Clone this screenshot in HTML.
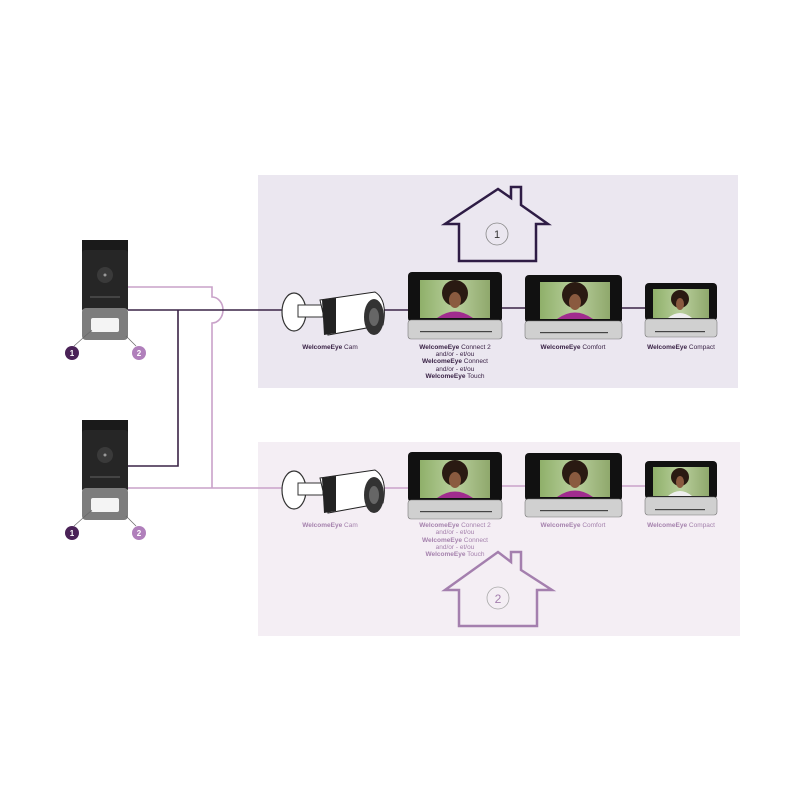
<!DOCTYPE html>
<html><head><style>
body{margin:0;background:#fff;width:800px;height:800px;overflow:hidden}
svg{display:block}
text{font-family:"Liberation Sans",sans-serif;font-size:6.5px;text-anchor:middle}
</style></head><body>
<svg width="800" height="800" viewBox="0 0 800 800">
<defs>
<linearGradient id="scr" x1="0" y1="0" x2="1" y2="0"><stop offset="0" stop-color="#8fb06a"/><stop offset="0.5" stop-color="#b9cf9c"/><stop offset="1" stop-color="#8fa86c"/></linearGradient>
<g id="db">
<rect x="82" y="240" width="46" height="14" fill="#1a1a1a"/>
<rect x="82" y="250" width="46" height="62" rx="3" fill="#262626"/>
<rect x="82" y="308" width="46" height="32" rx="4" fill="#7d7d7d"/>
<circle cx="105" cy="275" r="8" fill="#3a3a3a"/><circle cx="105" cy="275" r="1.5" fill="#999"/>
<rect x="90" y="296" width="30" height="2" fill="#444"/>
<rect x="91" y="318" width="28" height="14" rx="2" fill="#f4f4f4"/>
</g>
<g id="cam">
<ellipse cx="294" cy="312" rx="12" ry="19" fill="#fff" stroke="#333" stroke-width="1.2"/>
<rect x="298" y="305" width="25" height="12" fill="#fff" stroke="#333"/>
<path d="M320 300 L375 292 Q388 300 383 325 L328 335 Z" fill="#fff" stroke="#222"/>
<path d="M322 300 L336 298 L336 333 L324 335 Z" fill="#222"/>
<ellipse cx="374" cy="317" rx="10" ry="18" fill="#333"/>
<ellipse cx="374" cy="317" rx="5" ry="9" fill="#666"/>
</g>
<g id="mon1">
<rect x="408" y="272" width="94" height="50" rx="4" fill="#111"/>
<rect x="420" y="280" width="70" height="38" fill="url(#scr)"/>
<ellipse cx="455" cy="293" rx="13" ry="13" fill="#2a1a12"/><ellipse cx="455" cy="300" rx="6" ry="8" fill="#8a5a3f"/>
<path d="M437 318 Q455 305 473 318 Z" fill="#a02c8e"/>
<rect x="408" y="320" width="94" height="19" rx="3" fill="#d0d0d0" stroke="#777" stroke-width="0.6"/>
<rect x="420" y="331" width="72" height="1.2" fill="#444"/>
</g>
<g id="mon2">
<rect x="525" y="275" width="97" height="48" rx="4" fill="#111"/>
<rect x="540" y="282" width="70" height="37" fill="url(#scr)"/>
<ellipse cx="575" cy="295" rx="13" ry="13" fill="#2a1a12"/><ellipse cx="575" cy="302" rx="6" ry="8" fill="#8a5a3f"/>
<path d="M557 319 Q575 306 593 319 Z" fill="#a02c8e"/>
<rect x="525" y="321" width="97" height="18" rx="3" fill="#d0d0d0" stroke="#777" stroke-width="0.6"/>
<rect x="540" y="332" width="68" height="1.2" fill="#444"/>
</g>
<g id="mon3">
<rect x="645" y="283" width="72" height="38" rx="4" fill="#111"/>
<rect x="653" y="289" width="56" height="29" fill="url(#scr)"/>
<ellipse cx="680" cy="299" rx="9" ry="9" fill="#2a1a12"/><ellipse cx="680" cy="304" rx="4" ry="6" fill="#8a5a3f"/>
<path d="M668 318 Q680 308 692 318 Z" fill="#eee"/>
<rect x="645" y="319" width="72" height="18" rx="3" fill="#d0d0d0" stroke="#777" stroke-width="0.6"/>
<rect x="655" y="331" width="50" height="1.2" fill="#444"/>
</g>
</defs>
<rect x="258" y="175" width="480" height="213" fill="#ebe7f0"/>
<rect x="258" y="442" width="482" height="194" fill="#f4eef4"/>
<!-- house 1 -->
<path d="M459 261 V224 H445 L498 189 L511 198 V187 H521 V205 L548 224 H536 V261 Z" fill="none" stroke="#2e1c45" stroke-width="2.5"/>
<circle cx="497" cy="234" r="11" fill="none" stroke="#888" stroke-width="0.8"/>
<text x="497" y="238" style="font-size:11px;fill:#333">1</text>
<!-- house 2 -->
<path d="M459 626 V590 H445 L498 552 L511 562 V552 H521 V570 L552 590 H537 V626 Z" fill="none" stroke="#a47fae" stroke-width="2.5"/>
<circle cx="498" cy="598" r="11" fill="none" stroke="#aaa" stroke-width="0.8"/>
<text x="498" y="603" style="font-size:12px;fill:#a47fae">2</text>
<!-- wires -->
<g fill="none" stroke-width="1.6">
<path d="M128 287 H212 V297 A11 13 0 0 1 212 323 V488" stroke="#c9a2c9"/>
<path d="M128 488 H408" stroke="#c9a2c9"/>
<path d="M502 486 H525 M622 486 H645" stroke="#c9a2c9"/>
<path d="M128 310 H408 M502 308 H525 M622 308 H645" stroke="#3a2346"/>
<path d="M178 310 V466 H128" stroke="#3a2346"/>
</g>
<use href="#db"/>
<use href="#db" transform="translate(0,180)"/>
<g stroke="#666" stroke-width="0.7"><line x1="92" y1="330" x2="74" y2="346"/><line x1="126" y1="336" x2="136" y2="346"/><line x1="92" y1="510" x2="74" y2="526"/><line x1="126" y1="516" x2="136" y2="526"/></g>
<circle cx="72" cy="353" r="7" fill="#4a2257"/><text x="72" y="356" style="fill:#fff;font-size:8px;font-weight:bold">1</text>
<circle cx="139" cy="353" r="7" fill="#b07fbb"/><text x="139" y="356" style="fill:#fff;font-size:8px;font-weight:bold">2</text>
<circle cx="72" cy="533" r="7" fill="#4a2257"/><text x="72" y="536" style="fill:#fff;font-size:8px;font-weight:bold">1</text>
<circle cx="139" cy="533" r="7" fill="#b07fbb"/><text x="139" y="536" style="fill:#fff;font-size:8px;font-weight:bold">2</text>
<use href="#cam"/><use href="#cam" transform="translate(0,178)"/>
<use href="#mon1"/><use href="#mon2"/><use href="#mon3"/>
<use href="#mon1" transform="translate(0,180)"/><use href="#mon2" transform="translate(0,178)"/><use href="#mon3" transform="translate(0,178)"/>
<g style="fill:#3a2346">
<text x="330" y="349"><tspan font-weight="bold">WelcomeEye</tspan> Cam</text>
<text x="455" y="349"><tspan font-weight="bold">WelcomeEye</tspan> Connect 2</text>
<text x="455" y="356">and/or - et/ou</text>
<text x="455" y="363"><tspan font-weight="bold">WelcomeEye</tspan> Connect</text>
<text x="455" y="371">and/or - et/ou</text>
<text x="455" y="378"><tspan font-weight="bold">WelcomeEye</tspan> Touch</text>
<text x="573" y="349"><tspan font-weight="bold">WelcomeEye</tspan> Comfort</text>
<text x="681" y="349"><tspan font-weight="bold">WelcomeEye</tspan> Compact</text>
</g>
<g style="fill:#a582ad">
<text x="330" y="527"><tspan font-weight="bold">WelcomeEye</tspan> Cam</text>
<text x="455" y="527"><tspan font-weight="bold">WelcomeEye</tspan> Connect 2</text>
<text x="455" y="534">and/or - et/ou</text>
<text x="455" y="542"><tspan font-weight="bold">WelcomeEye</tspan> Connect</text>
<text x="455" y="549">and/or - et/ou</text>
<text x="455" y="556"><tspan font-weight="bold">WelcomeEye</tspan> Touch</text>
<text x="573" y="527"><tspan font-weight="bold">WelcomeEye</tspan> Comfort</text>
<text x="681" y="527"><tspan font-weight="bold">WelcomeEye</tspan> Compact</text>
</g>
</svg>
</body></html>
